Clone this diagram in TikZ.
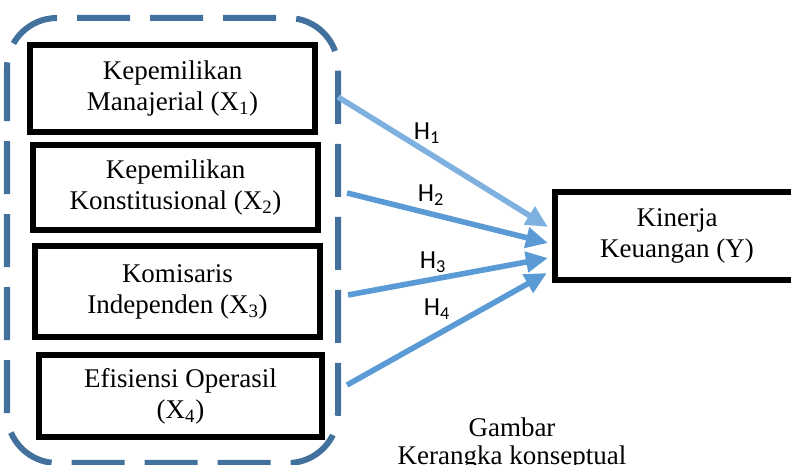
\documentclass[tikz,border=0pt]{standalone}
\usepackage{fontspec}
\setmainfont{Liberation Serif}
\newfontfamily\hfont{Carlito}
\usepackage{tikz}
\usetikzlibrary{arrows.meta, calc}
\definecolor{groupblue}{HTML}{41719C}
\definecolor{arrowblue}{HTML}{5B9BD5}
\definecolor{lightblue}{HTML}{7EB1DF}

\begin{document}
\begin{tikzpicture}[
  x=0.025cm, y=-0.025cm,
  varbox/.style={rectangle, draw=black, line width=0.15cm, fill=white, minimum width=7.125cm, minimum height=2.2cm, inner sep=0pt, align=center, font=\fontsize{19.2}{22}\selectfont},
  outbox/.style={varbox, minimum width=6.1cm},
  arrow/.style={-{Triangle[length=0.55cm, width=0.5cm]}, line width=0.14cm, draw=arrowblue},
  hlabel/.style={inner sep=0pt, font=\hfont\fontsize{18.5}{20}\selectfont},
  group/.style={draw=groupblue, line width=0.15cm, rounded corners=1.25cm, dash pattern=on 1.325cm off 0.5cm}
]
  \clip (0,0) rectangle (791,465);

  % Group of independent variables
  \draw[group] (7,18) rectangle (338,463);

  % Independent variables
  \node[varbox, minimum height=2.175cm] (km) at (172.5,88.5) {Kepemilikan\\Manajerial (X\textsubscript{1})};
  \node[varbox, minimum height=2.125cm] (kk) at (175.5,187.5) {Kepemilikan\\Konstitusional (X\textsubscript{2})};
  \node[varbox, minimum height=2.275cm] (ki) at (177.5,291.5) {Komisaris\\Independen (X\textsubscript{3})};
  \node[varbox, minimum height=2.05cm, minimum width=7.075cm] (eo) at (180.5,396) {Efisiensi Operasil\\(X\textsubscript{4})};

  % Dependent variable
  \node[outbox] (kin) at (677,236) {Kinerja\\Keuangan (Y)};

  % Hypotheses
  \node[hlabel] (h1) at (427,133) {H\textsubscript{1}};
  \node[hlabel] (h2) at (431,195) {H\textsubscript{2}};
  \node[hlabel] (h3) at (433,262) {H\textsubscript{3}};
  \node[hlabel] (h4) at (437,309) {H\textsubscript{4}};

  % Caption
  \node[align=center, font=\fontsize{19.2}{20}\selectfont] (cap) at (512,444) {Gambar\\Kerangka konseptual};

  % Arrows
  \draw[arrow, draw=lightblue] ($(km.east)+(20,8.5)$) -- ($(kin.west)+(-4,-9)$);
  \draw[arrow] ($(kk.east)+(26,5.5)$) -- ($(kin.west)+(-4,7)$);
  \draw[arrow] ($(ki.east)+(25,3.5)$) -- ($(kin.west)+(-4,22)$);
  \draw[arrow] ($(eo.east)+(22,-11)$) -- ($(kin.west)+(-5,37)$);
\end{tikzpicture}
\end{document}
